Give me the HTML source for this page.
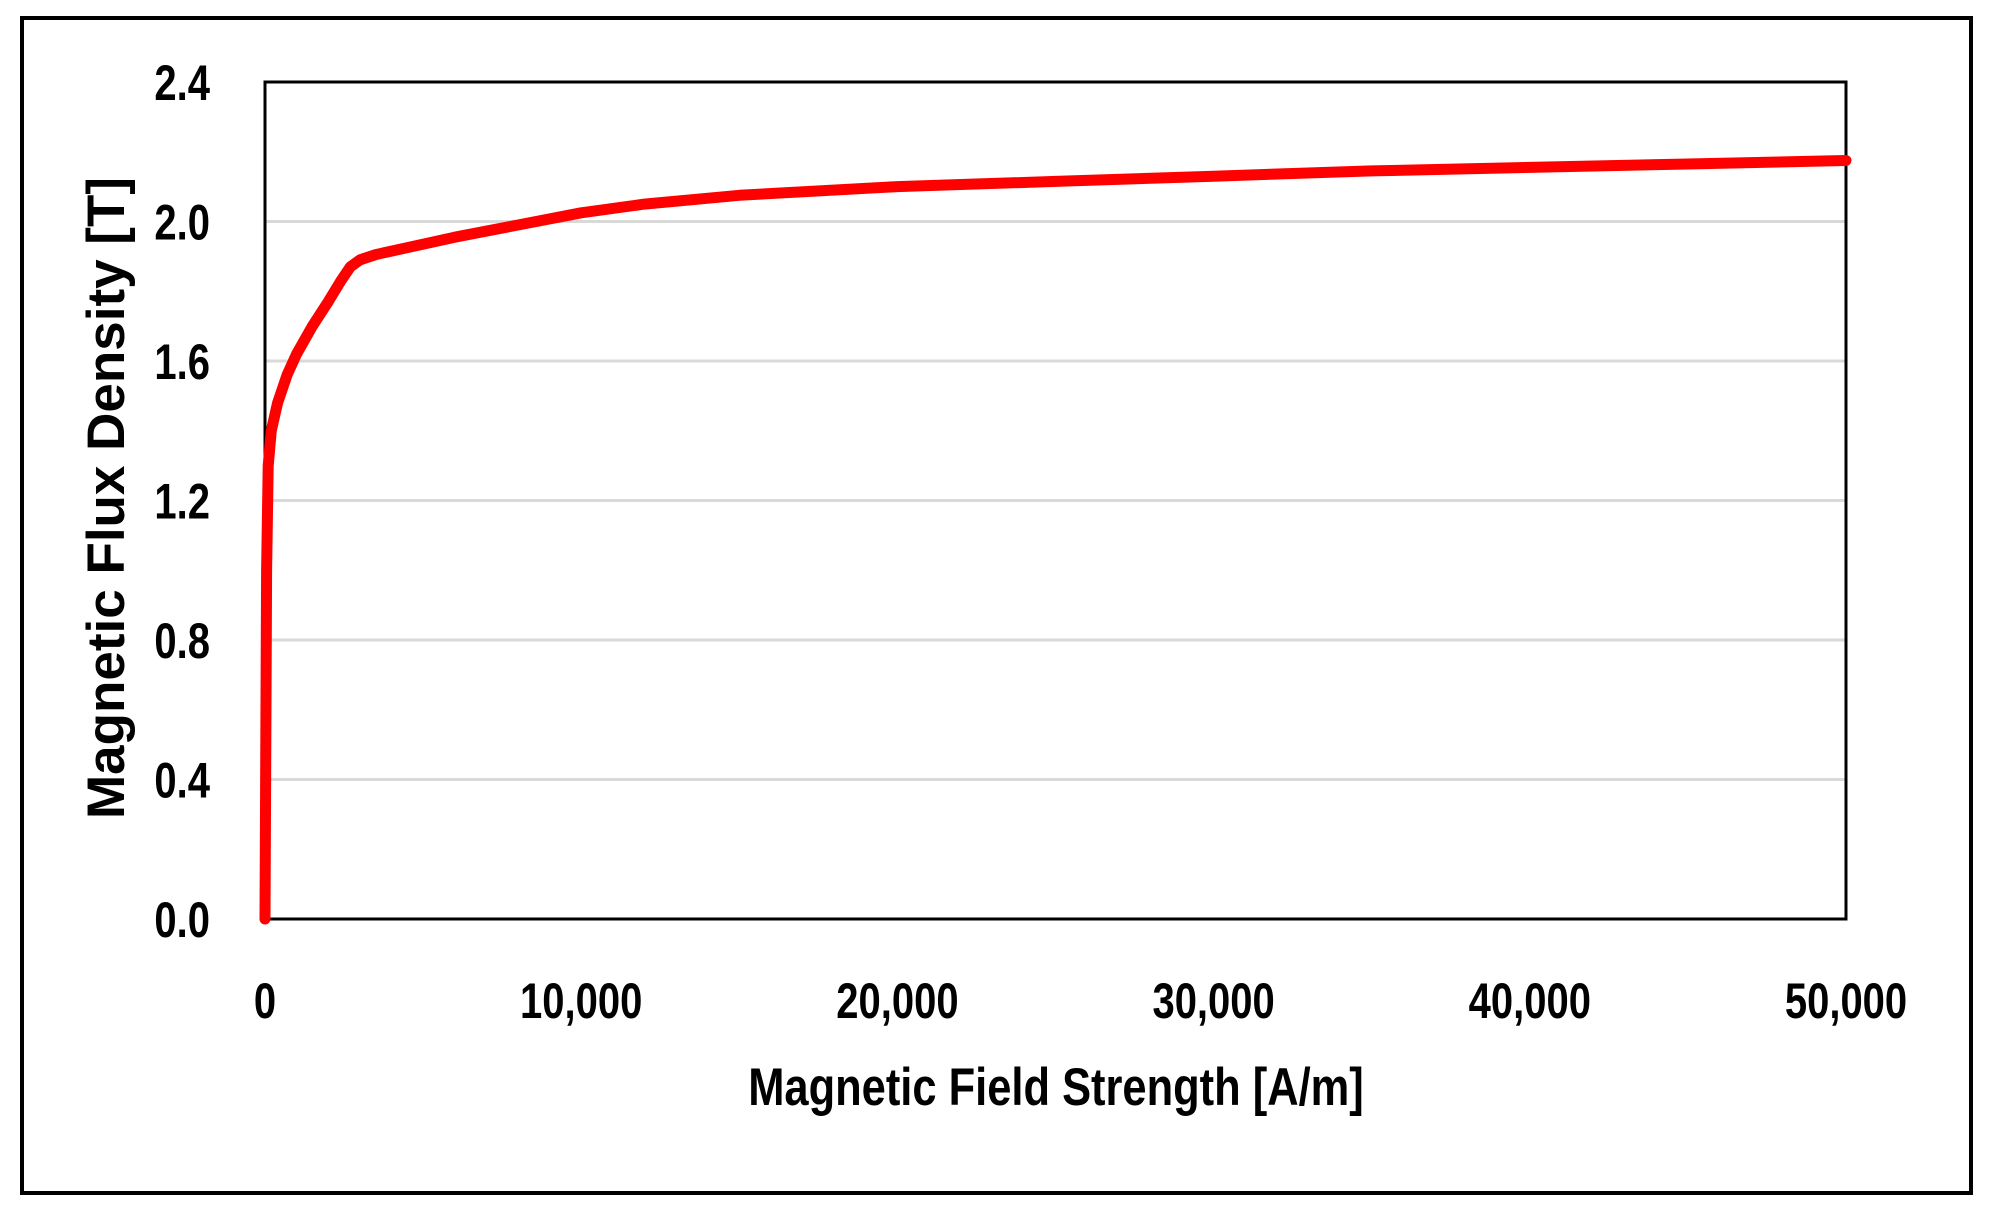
<!DOCTYPE html>
<html><head><meta charset="utf-8"><style>
html,body{margin:0;padding:0;background:#fff;}
body{width:1990px;height:1215px;overflow:hidden;}
text{font-family:"Liberation Sans",sans-serif;}
</style></head><body>
<svg id="chart" width="1990" height="1215" viewBox="0 0 1990 1215" xmlns="http://www.w3.org/2000/svg">
<rect x="22" y="18" width="1949" height="1175" fill="#fff" stroke="#000" stroke-width="4"/>
<g id="grid"></g>
<rect x="265" y="82" width="1581" height="837" fill="none" stroke="#000" stroke-width="3"/>
<g id="ticks"></g>
<path id="curve" fill="none" stroke="#ff0000" stroke-width="11" stroke-linejoin="round" stroke-linecap="round"/>
<text transform="translate(124,498) rotate(-90)" text-anchor="middle" font-size="53" font-weight="bold" fill="#000">Magnetic Flux Density [T]</text>
<text transform="translate(1056,1105) scale(0.82,1)" text-anchor="middle" font-size="53" font-weight="bold" fill="#000">Magnetic Field Strength [A/m]</text>
</svg>
<script>
const hValues=[0,50,100,200,400,700,1000,1500,2000,2400,2700,3000,3500,4000,6000,8000,10000,12000,15000,20000,25000,30000,35000,40000,45000,50000];
const bValues=[0,1.0,1.3,1.4,1.48,1.56,1.62,1.7,1.77,1.83,1.87,1.89,1.905,1.915,1.955,1.99,2.025,2.05,2.075,2.1,2.115,2.13,2.145,2.155,2.165,2.175];
const yTicks=[0,0.4,0.8,1.2,1.6,2.0,2.4];
const yTickLabels=["0.0","0.4","0.8","1.2","1.6","2.0","2.4"];
const xTicks=[0,10000,20000,30000,40000,50000];
const xTickLabels=["0","10,000","20,000","30,000","40,000","50,000"];
const X0=265,X1=1846,Y0=919,Y1=82;
const sx=v=>X0+(v-0)/50000*(X1-X0);
const sy=v=>Y0-(v/2.4)*(Y0-Y1);
const NS="http://www.w3.org/2000/svg";
const grid=document.getElementById('grid'),ticks=document.getElementById('ticks');
yTicks.forEach((v,i)=>{
  if(v>0&&v<2.4){
    const l=document.createElementNS(NS,'line');
    
    
    l.setAttribute('x1',X0);l.setAttribute('x2',X1);l.setAttribute('y1',sy(v));l.setAttribute('y2',sy(v));
    l.setAttribute('stroke','#d9d9d9');l.setAttribute('stroke-width','3');
    grid.appendChild(l);
  }
  const t=document.createElementNS(NS,'text');
  
  
  t.setAttribute('transform','translate(210,'+(sy(v)+18)+') scale(0.8,1)');
  t.setAttribute('text-anchor','end');t.setAttribute('font-size','50');t.setAttribute('font-weight','bold');
  t.textContent=yTickLabels[i];ticks.appendChild(t);
});
xTicks.forEach((v,i)=>{
  const t=document.createElementNS(NS,'text');
  
  
  t.setAttribute('transform','translate('+sx(v)+',1018) scale(0.8,1)');
  t.setAttribute('text-anchor','middle');t.setAttribute('font-size','50');t.setAttribute('font-weight','bold');
  t.textContent=xTickLabels[i];ticks.appendChild(t);
});
document.getElementById('curve').setAttribute('d',hValues.map((h,i)=>(i?'L':'M')+sx(h).toFixed(1)+','+sy(bValues[i]).toFixed(1)).join(' '));
</script>
</body></html>
